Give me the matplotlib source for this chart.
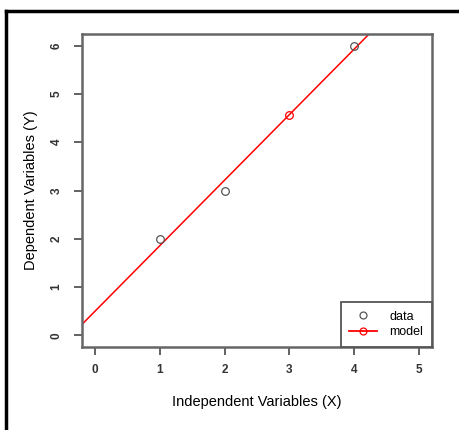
import numpy as np
import matplotlib
matplotlib.use("Agg")
import matplotlib.pyplot as plt
from matplotlib.lines import Line2D

plt.rcParams['font.family'] = ['Liberation Sans', 'DejaVu Sans']

# data
x_data = [1, 2, 4]
y_data = [2, 3, 6]
x_model = [3]
y_model = [4.571]
intercept = 0.5
slope = 1.357
x_ticks = [0, 1, 2, 3, 4, 5]
y_ticks = [0, 1, 2, 3, 4, 5, 6]

fig = plt.figure(figsize=(4.59, 4.30), dpi=100)
ax = fig.add_axes([82/459, 1-347/430, 350/459, 313/430])

# regression line across the whole plot region (abline style)
xl = np.array([-0.2, 5.2])
ax.plot(xl, intercept + slope*xl, color='red', lw=1.1, zorder=2)
ax.plot(x_data, y_data, 'o', mfc='none', mec='#555555', ms=5.5, mew=0.9, zorder=3)
ax.plot(x_model, y_model, 'o', mfc='none', mec='red', ms=5.5, mew=0.9, zorder=3)

ax.set_xlim(-0.2, 5.2)
ax.set_ylim(-0.24, 6.24)
ax.set_xticks(x_ticks)
ax.set_yticks(y_ticks)
ax.tick_params(direction='out', length=6, width=1.3, color='#555555',
               labelsize=8.5, pad=6)
ax.tick_params(axis='y', pad=8)
for lab in ax.get_xticklabels() + ax.get_yticklabels():
    lab.set_fontweight('bold')
    lab.set_color('#333333')
for lab in ax.get_yticklabels():
    lab.set_rotation(90)
    lab.set_va('center')
for s in ax.spines.values():
    s.set_color('#666666')
    s.set_linewidth(1.8)

ax.set_xlabel('Independent Variables (X)', fontsize=10.5, labelpad=14)
ax.set_ylabel('Dependent Variables (Y)', fontsize=10.5, labelpad=9)

handles = [
    Line2D([], [], ls='none', marker='o', mfc='none', mec='#555555', ms=5, mew=0.9),
    Line2D([], [], color='red', lw=1.3, marker='o', mfc='none', mec='red', ms=5, mew=0.9),
]
leg = ax.legend(handles, ['data', 'model'], loc='lower right', borderaxespad=0,
                fancybox=False, framealpha=1, edgecolor='#555555', fontsize=9,
                handlelength=2.2, borderpad=0.7, labelspacing=0.3, handletextpad=1.0)
leg.get_frame().set_linewidth(1.3)

# outer black frame (top and left edges only)
fig.add_artist(Line2D([6/459, 1], [1-11/430, 1-11/430], color='black', lw=2.5,
                      transform=fig.transFigure))
fig.add_artist(Line2D([6/459, 6/459], [0, 1-11/430], color='black', lw=2.5,
                      transform=fig.transFigure))

fig.savefig('out.png', dpi=100)
